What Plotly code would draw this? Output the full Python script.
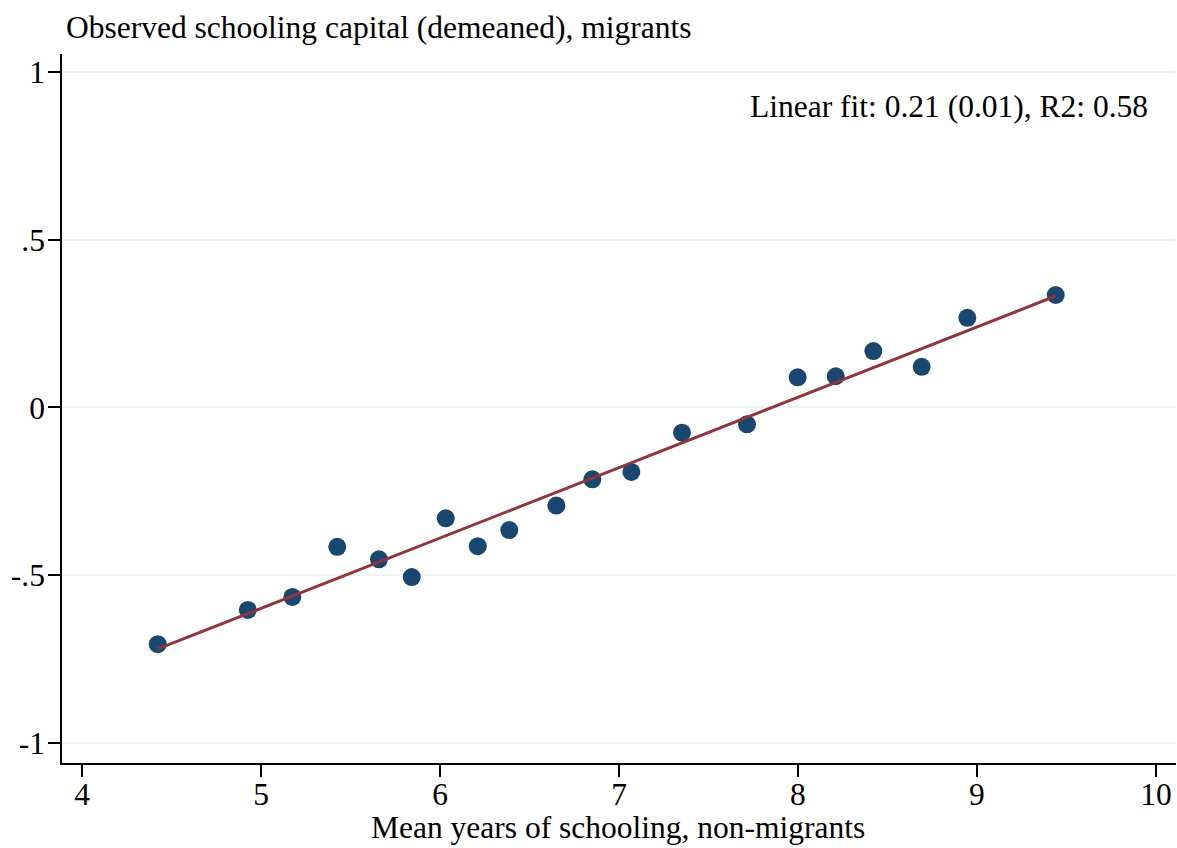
import plotly.graph_objects as go

# Data
x_vals = [4.423, 4.926, 5.175, 5.426, 5.659, 5.842, 6.032, 6.211, 6.387, 6.650,
          6.851, 7.069, 7.352, 7.715, 7.998, 8.211, 8.421, 8.691, 8.946, 9.440]
y_vals = [-0.705, -0.603, -0.564, -0.415, -0.452, -0.505, -0.330, -0.413, -0.365, -0.292,
          -0.214, -0.192, -0.075, -0.050, 0.090, 0.093, 0.168, 0.121, 0.267, 0.335]
fit_x = [4.423, 9.440]
fit_y = [-0.719, 0.332]

x_ticks = [4, 5, 6, 7, 8, 9, 10]
y_ticks = [-1, -0.5, 0, 0.5, 1]
y_ticktext = ["-1", "-.5", "0", ".5", "1"]

title_text = "Observed schooling capital (demeaned), migrants"
xlabel_text = "Mean years of schooling, non-migrants"
fit_text = "Linear fit: 0.21 (0.01), R2: 0.58"

FONT = "Liberation Serif, Times New Roman, serif"
FS = 31.5

fig = go.Figure()
fig.add_trace(go.Scatter(x=x_vals, y=y_vals, mode="markers",
                         marker=dict(size=18, color="#1a476f", line=dict(width=0)),
                         showlegend=False, hoverinfo="skip"))
fig.add_trace(go.Scatter(x=fit_x, y=fit_y, mode="lines",
                         line=dict(color="#90353b", width=3),
                         showlegend=False, hoverinfo="skip"))

fig.update_layout(
    width=1177, height=848,
    margin=dict(l=62, r=1, t=54, b=85),
    paper_bgcolor="white", plot_bgcolor="white",
    font=dict(family=FONT, size=FS, color="black"),
    xaxis=dict(range=[3.888, 10.112], tickvals=x_ticks, showgrid=False, zeroline=False,
               showline=True, linecolor="black", linewidth=1.5,
               ticks="outside", ticklen=12, tickwidth=1.5, tickcolor="black",
               tickfont=dict(family=FONT, size=FS), ticklabelstandoff=-10),
    yaxis=dict(range=[-1.0587, 1.0527], tickvals=y_ticks, ticktext=y_ticktext,
               showgrid=True, gridcolor="#eaf2f3", gridwidth=2, zeroline=False,
               showline=True, linecolor="black", linewidth=1.5,
               ticks="outside", ticklen=12, tickwidth=1.5, tickcolor="black",
               tickfont=dict(family=FONT, size=FS), ticklabelstandoff=-3),
    annotations=[
        dict(text=title_text, xref="paper", yref="paper", x=0, y=1, xshift=2, yshift=27,
             xanchor="left", yanchor="middle", showarrow=False,
             font=dict(family=FONT, size=FS)),
        dict(text=xlabel_text, xref="paper", yref="paper", x=(618 - 62) / 1114, y=0, yshift=-64,
             xanchor="center", yanchor="middle", showarrow=False,
             font=dict(family=FONT, size=FS)),
        dict(text=fit_text, xref="x", yref="y", x=9.967, y=0.895,
             xanchor="right", yanchor="middle", showarrow=False,
             font=dict(family=FONT, size=FS)),
    ],
)

fig.write_html("out.html", config={"displayModeBar": False},
               post_script="document.body.style.margin='0';document.body.style.overflow='hidden';")
